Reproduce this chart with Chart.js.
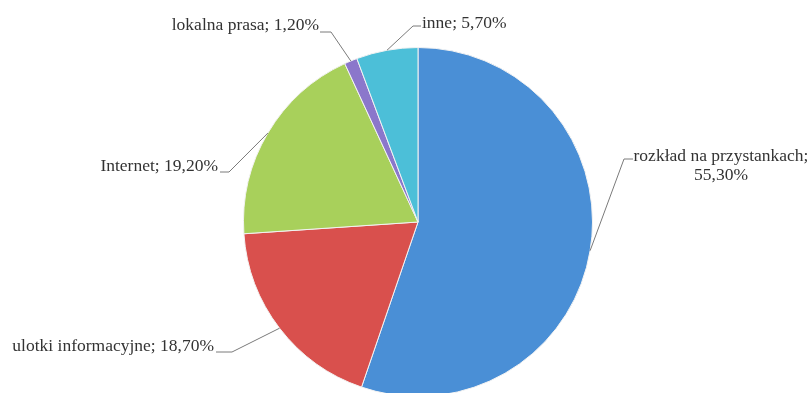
<!DOCTYPE html>
<html lang="pl">
<head>
<meta charset="UTF-8"/>
<title>Źródła informacji</title>
<script src="https://cdn.jsdelivr.net/npm/chart.js@4.4.1/dist/chart.umd.min.js"></script>
<style>
  html, body { margin: 0; padding: 0; background: #fff; overflow: hidden; }
  #wrap { position: absolute; left: 0; top: 0; width: 812px; height: 400px; }
</style>
</head>
<body>
<div id="wrap"><canvas id="chart"></canvas></div>
<script>
// data
var categories = ['rozkład na przystankach', 'ulotki informacyjne', 'Internet', 'lokalna prasa', 'inne'];
var shares = [55.3, 18.7, 19.2, 1.2, 5.7];
var sliceColors = ['#4a8fd6', '#d9504d', '#a8d05b', '#8b77cb', '#4cbfd8'];

// where each label sits: text anchor, elbow of the leader line, end of the short stub
var labelLayout = [
  { tx: 721, ty: 156, align: 'center', elbow: [624, 159], stub: [633, 159], split: true },
  { tx: 214, ty: 346, align: 'right', elbow: [232, 352], stub: [216, 352] },
  { tx: 218, ty: 166, align: 'right', elbow: [229, 172], stub: [220, 172] },
  { tx: 319, ty: 25, align: 'right', elbow: [331, 32], stub: [320, 32] },
  { tx: 422, ty: 23, align: 'left', elbow: [413, 26], stub: [421, 26] }
];

function pct(v) {
  return v.toFixed(2).replace('.', ',') + '%';
}

var leaderLabels = {
  id: 'leaderLabels',
  afterDraw: function(chart) {
    var ctx = chart.ctx;
    var arcs = chart.getDatasetMeta(0).data;
    ctx.save();
    ctx.font = '17.5px "Liberation Serif", "Times New Roman", serif';
    ctx.fillStyle = '#333333';
    ctx.strokeStyle = '#7a7a7a';
    ctx.lineWidth = 1;
    ctx.textBaseline = 'middle';
    arcs.forEach(function(arc, i) {
      var p = arc.getProps(['x', 'y', 'startAngle', 'endAngle', 'outerRadius'], true);
      var mid = (p.startAngle + p.endAngle) / 2;
      var ax = p.x + Math.cos(mid) * p.outerRadius;
      var ay = p.y + Math.sin(mid) * p.outerRadius;
      var L = labelLayout[i];
      ctx.beginPath();
      ctx.moveTo(ax, ay);
      ctx.lineTo(L.elbow[0], L.elbow[1]);
      ctx.lineTo(L.stub[0], L.stub[1]);
      ctx.stroke();
      ctx.textAlign = L.align;
      if (L.split) {
        ctx.fillText(categories[i] + ';', L.tx, L.ty);
        ctx.fillText(pct(shares[i]), L.tx, L.ty + 19);
      } else {
        ctx.fillText(categories[i] + '; ' + pct(shares[i]), L.tx, L.ty);
      }
    });
    ctx.restore();
  }
};

new Chart(document.getElementById('chart'), {
  type: 'pie',
  data: {
    labels: categories,
    datasets: [{
      data: shares,
      backgroundColor: sliceColors,
      borderColor: '#f2f2f2',
      borderWidth: 1
    }]
  },
  options: {
    responsive: true,
    maintainAspectRatio: false,
    animation: false,
    layout: { padding: { top: 47, bottom: 3, left: 24, right: 0 } },
    plugins: {
      legend: { display: false },
      tooltip: { enabled: false },
      title: { display: false }
    }
  },
  plugins: [leaderLabels]
});
</script>
</body>
</html>
